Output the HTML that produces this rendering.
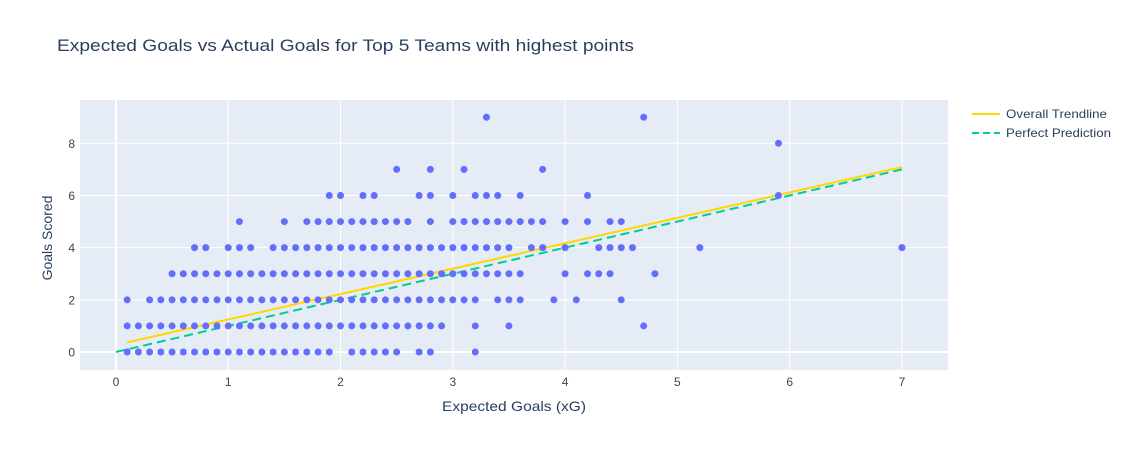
<!DOCTYPE html>
<html><head><meta charset="utf-8">
<style>
body{margin:0;background:#fff;font-family:"Liberation Sans",sans-serif;}
svg text{font-family:"Liberation Sans",sans-serif;}
</style></head>
<body>
<svg id="chart" width="1129" height="450" xmlns="http://www.w3.org/2000/svg">
<rect width="1129" height="450" fill="#fff"/>
<text x="57" y="51" font-size="17" fill="#2a3f5f" textLength="577" lengthAdjust="spacingAndGlyphs">Expected Goals vs Actual Goals for Top 5 Teams with highest points</text>
<rect x="80" y="100" width="868" height="270" fill="#e5ecf6"/>
<g id="grid"></g>
<g id="lines"></g>
<g id="points"></g>
<g id="ticks"></g>
<text x="442" y="411" font-size="14" fill="#2a3f5f" textLength="144" lengthAdjust="spacingAndGlyphs">Expected Goals (xG)</text>
<text transform="translate(52,238) rotate(-90)" font-size="14" fill="#2a3f5f" text-anchor="middle">Goals Scored</text>
<g>
<g>
<line x1="972" y1="114" x2="1000" y2="114" stroke="#ffd700" stroke-width="2"/>
<text x="1006" y="118" font-size="12" fill="#2a3f5f" textLength="101" lengthAdjust="spacingAndGlyphs">Overall Trendline</text></g>
<g>
<line x1="972" y1="133" x2="1000" y2="133" stroke="#00cc96" stroke-width="2" stroke-dasharray="7,4"/>
<text x="1006" y="137" font-size="12" fill="#2a3f5f" textLength="105" lengthAdjust="spacingAndGlyphs">Perfect Prediction</text></g>
</g>
</svg>
<script>
const xTicks=[0,1,2,3,4,5,6,7];
const yTicks=[0,2,4,6,8];
const goalRows=[0,1,2,3,4,5,6,7,8,9];
const xgByGoals=[
 [0.1,0.2,0.3,0.4,0.5,0.6,0.7,0.8,0.9,1.0,1.1,1.2,1.3,1.4,1.5,1.6,1.7,1.8,1.9,2.1,2.2,2.3,2.4,2.5,2.7,2.8,3.2],
 [0.1,0.2,0.3,0.4,0.5,0.6,0.7,0.8,0.9,1.0,1.1,1.2,1.3,1.4,1.5,1.6,1.7,1.8,1.9,2.0,2.1,2.2,2.3,2.4,2.5,2.6,2.7,2.8,2.9,3.2,3.5,4.7],
 [0.1,0.3,0.4,0.5,0.6,0.7,0.8,0.9,1.0,1.1,1.2,1.3,1.4,1.5,1.6,1.7,1.8,1.9,2.0,2.1,2.2,2.3,2.4,2.5,2.6,2.7,2.8,2.9,3.0,3.1,3.2,3.4,3.5,3.6,3.9,4.1,4.5],
 [0.5,0.6,0.7,0.8,0.9,1.0,1.1,1.2,1.3,1.4,1.5,1.6,1.7,1.8,1.9,2.0,2.1,2.2,2.3,2.4,2.5,2.6,2.7,2.8,2.9,3.0,3.1,3.2,3.3,3.4,3.5,3.6,4.0,4.2,4.3,4.4,4.8],
 [0.7,0.8,1.0,1.1,1.2,1.4,1.5,1.6,1.7,1.8,1.9,2.0,2.1,2.2,2.3,2.4,2.5,2.6,2.7,2.8,2.9,3.0,3.1,3.2,3.3,3.4,3.5,3.7,3.8,4.0,4.3,4.4,4.5,4.6,5.2,7.0],
 [1.1,1.5,1.7,1.8,1.9,2.0,2.1,2.2,2.3,2.4,2.5,2.6,2.8,3.0,3.1,3.2,3.3,3.4,3.5,3.6,3.7,3.8,4.0,4.2,4.4,4.5],
 [1.9,2.0,2.2,2.3,2.7,2.8,3.0,3.2,3.3,3.4,3.6,4.2,5.9],
 [2.5,2.8,3.1,3.8],
 [5.9],
 [3.3,4.7]
];
const trendX=[0.1,7.0];
const trendY=[0.37,7.09];
const perfectX=[0,7];
const perfectY=[0,7];
const X0=80,X1=948,Y0=370,Y1=100,xmin=-0.32,xmax=7.41,ymin=-0.69,ymax=9.66;
const sx=v=>X0+(v-xmin)/(xmax-xmin)*(X1-X0);
const sy=v=>Y0-(v-ymin)/(ymax-ymin)*(Y0-Y1);
const NS="http://www.w3.org/2000/svg";
function mk(tag,attrs,parent){const e=document.createElementNS(NS,tag);for(const k in attrs)e.setAttribute(k,attrs[k]);document.getElementById(parent).appendChild(e);return e;}
xTicks.forEach(t=>{
 const g=mk('line',{x1:sx(t),x2:sx(t),y1:Y1,y2:Y0,stroke:'#fff','stroke-width':t===0?2:1},'grid');
 
 
 const l=mk('text',{x:sx(t),y:386,'font-size':12,fill:'#444','text-anchor':'middle'},'ticks');
 l.textContent=t;
 
 
});
yTicks.forEach(t=>{
 const g=mk('line',{x1:X0,x2:X1,y1:sy(t),y2:sy(t),stroke:'#fff','stroke-width':t===0?2:1},'grid');
 
 
 const l=mk('text',{x:75,y:sy(t)+4.5,'font-size':12,fill:'#444','text-anchor':'end'},'ticks');
 l.textContent=t;
 
 
});
goalRows.forEach((gl,i)=>{
 xgByGoals[i].forEach(xg=>{
  const c=mk('circle',{cx:sx(xg),cy:sy(gl),r:3.5,fill:'#636efa'},'points');
  
  
 });
});
const tl=mk('line',{x1:sx(trendX[0]),y1:sy(trendY[0]),x2:sx(trendX[1]),y2:sy(trendY[1]),stroke:'#ffd700','stroke-width':2},'lines');


const pl=mk('line',{x1:sx(perfectX[0]),y1:sy(perfectY[0]),x2:sx(perfectX[1]),y2:sy(perfectY[1]),stroke:'#00cc96','stroke-width':2,'stroke-dasharray':'9,5'},'lines');


</script>
</body></html>
